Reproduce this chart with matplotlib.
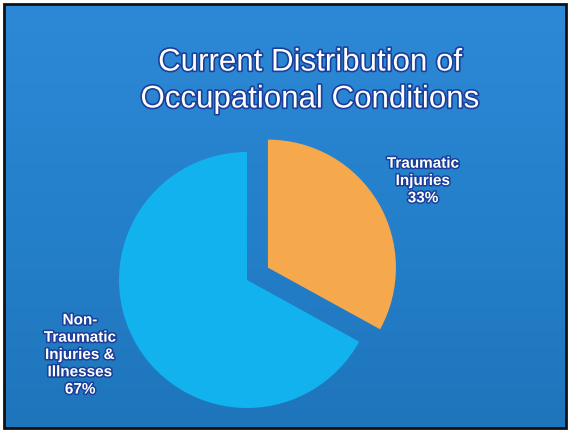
import numpy as np
import matplotlib
matplotlib.use("Agg")
import matplotlib.pyplot as plt
import matplotlib.patheffects as pe
from matplotlib.patches import Rectangle
from matplotlib.colors import LinearSegmentedColormap

# data
categories = ["Traumatic\nInjuries", "Non-\nTraumatic\nInjuries &\nIllnesses"]
values = [33, 67]
colors = ["#f6a94c", "#12b2ee"]
title = "Current Distribution of\nOccupational Conditions"

W, H = 570, 432
fig = plt.figure(figsize=(W / 100, H / 100), dpi=100)
fig.patch.set_facecolor("white")

# background slide
bg = fig.add_axes([0, 0, 1, 1])
bg.set_xlim(0, W)
bg.set_ylim(H, 0)
bg.axis("off")
grad = np.linspace(0, 1, 256).reshape(-1, 1)
cmap = LinearSegmentedColormap.from_list("bg", ["#2d88d7", "#2580cb", "#1e75bb"])
bg.imshow(grad, cmap=cmap, aspect="auto", extent=(4, 566, 428, 4), zorder=0)
bg.add_patch(Rectangle((4, 4), 562, 424, fill=False, edgecolor="#111111", lw=2, zorder=2))

outline = [pe.withStroke(linewidth=2.4, foreground="#1a3f9a")]
bg.text(310, 81, title, ha="center", va="center", color="white", fontsize=22.5,
        family="Liberation Sans", linespacing=1.3, path_effects=outline, zorder=3)

# pie
R = 128.0
cx, cy = 247, 280
half = 1.3 * R
ax = fig.add_axes([(cx - half) / W, (H - cy - half) / H, 2 * half / W, 2 * half / H])
ax.pie(values, colors=colors, startangle=90, counterclock=False,
       explode=[0.19, 0], radius=1.0, wedgeprops=dict(linewidth=0))
ax.set_xlim(-1.3, 1.3)
ax.set_ylim(-1.3, 1.3)
ax.set_aspect("equal")
ax.axis("off")

lab_effect = [pe.withStroke(linewidth=2.2, foreground="#1a3f9a")]
bg.text(423, 181, categories[0] + "\n" + f"{values[0]}%", ha="center", va="center",
        color="white", fontsize=11, fontweight="bold", family="Liberation Sans",
        linespacing=1.3, path_effects=lab_effect, zorder=3)
bg.text(80, 355, categories[1] + "\n" + f"{values[1]}%", ha="center", va="center",
        color="white", fontsize=11, fontweight="bold", family="Liberation Sans",
        linespacing=1.3, path_effects=lab_effect, zorder=3)

fig.savefig("out.png", dpi=100)
